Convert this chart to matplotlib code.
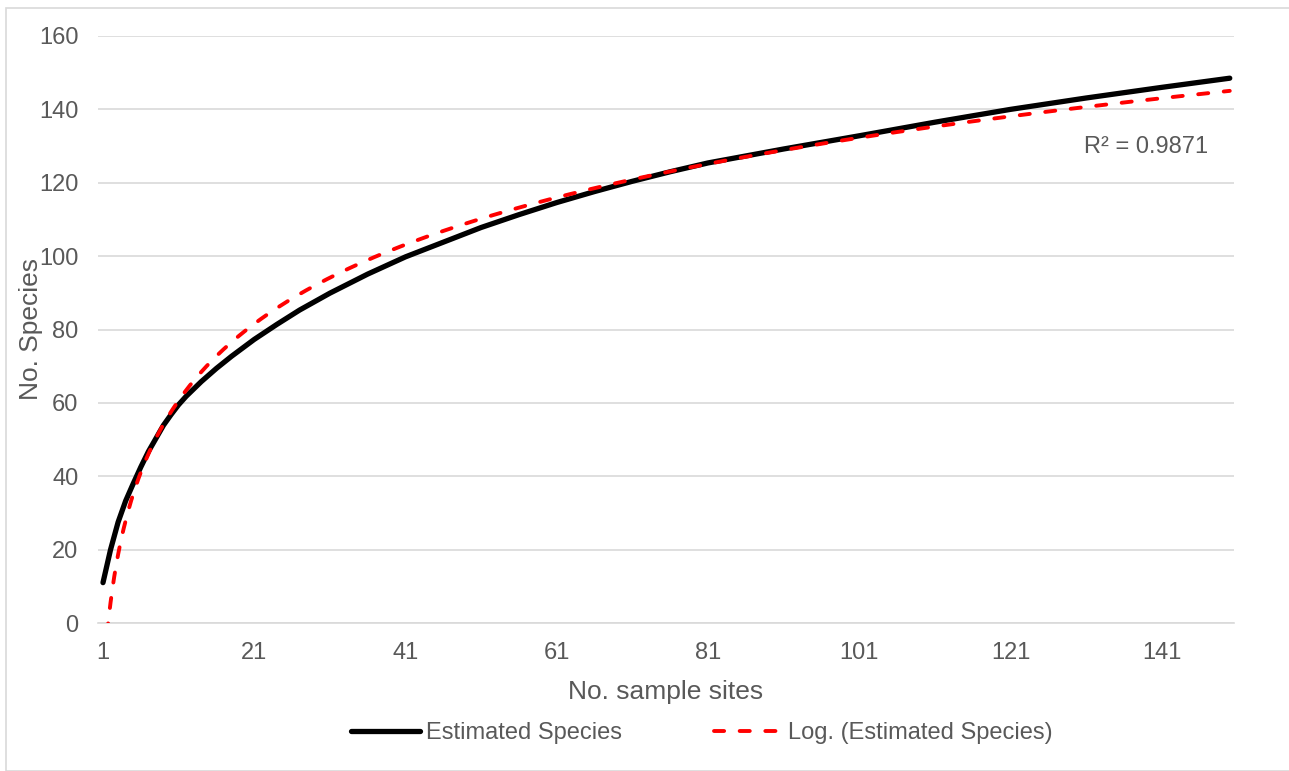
import numpy as np
import matplotlib
matplotlib.use('Agg')
import matplotlib.pyplot as plt
from matplotlib.patches import Rectangle

plt.rcParams['font.family'] = ['Liberation Sans', 'DejaVu Sans']

# sample sites and estimated species
sites = [1, 2, 3, 4, 5, 6, 7, 8, 9, 10, 11, 12, 14, 16, 18, 21, 24, 27, 31,
         36, 41, 46, 51, 56, 61, 66, 71, 76, 81, 91, 101, 111, 121, 131, 141, 150]
species = [11, 20, 27.5, 33.3, 38, 42.5, 46.7, 50.3, 53.9, 56.8, 59.5, 61.8,
           65.8, 69.4, 72.7, 77.3, 81.4, 85.3, 89.9, 95.1, 99.8, 103.8, 107.8,
           111.3, 114.6, 117.6, 120.4, 123.0, 125.4, 129.2, 132.8, 136.5, 140.0,
           143.1, 146.0, 148.5]

# log trendline y = a*ln(x) + b
trend_a = 32.3
trend_b = -16.8
r2_text = 'R² = 0.9871'

xticks = [1, 21, 41, 61, 81, 101, 121, 141]
yticks = [0, 20, 40, 60, 80, 100, 120, 140, 160]

grey = '#595959'

fig = plt.figure(figsize=(12.89, 7.71), dpi=100)
ax = fig.add_axes([98/1289, 1 - 623/771, (1234 - 98)/1289, (623 - 36)/771])

# outer chart border
fig.patches.append(Rectangle((6/1289, 0), 1.0, 1 - 8/771, transform=fig.transFigure,
                             fill=False, edgecolor='#d9d9d9', lw=1.2, clip_on=False))

ax.plot(sites, species, color='black', lw=3.8, solid_capstyle='round',
        solid_joinstyle='round', label='Estimated Species', zorder=3)

xs = np.linspace(1, 150, 600)
ax.plot(xs, trend_a*np.log(xs) + trend_b, color='red', lw=2.8, dashes=(2.6, 4.0),
        dash_capstyle='round', label='Log. (Estimated Species)', zorder=4)

ax.set_xlim(0.34, 150.56)
ax.set_ylim(0, 160)
ax.set_xticks(xticks)
ax.set_yticks(yticks)
ax.grid(axis='y', color='#d9d9d9', lw=1.2)
ax.set_axisbelow(True)
for s in ['top', 'right', 'left']:
    ax.spines[s].set_visible(False)
ax.spines['bottom'].set_color('#d9d9d9')
ax.spines['bottom'].set_linewidth(1.2)
ax.tick_params(length=0, labelsize=17, colors=grey)
ax.tick_params(axis='x', pad=14)
ax.tick_params(axis='y', pad=14)

ax.set_xlabel('No. sample sites', fontsize=19, color=grey, labelpad=11)
ax.set_ylabel('No. Species', fontsize=19, color=grey, labelpad=-3)

ax.text(138.9, 129.7, r2_text, ha='center', va='center', fontsize=17, color=grey)

fig.legend(loc='center', bbox_to_anchor=(702/1289, 1 - 733/771), ncol=2, frameon=False,
           fontsize=17, labelcolor=grey, handlelength=2.9, columnspacing=3.9,
           handletextpad=0.25)

fig.savefig('out.png', dpi=100)
